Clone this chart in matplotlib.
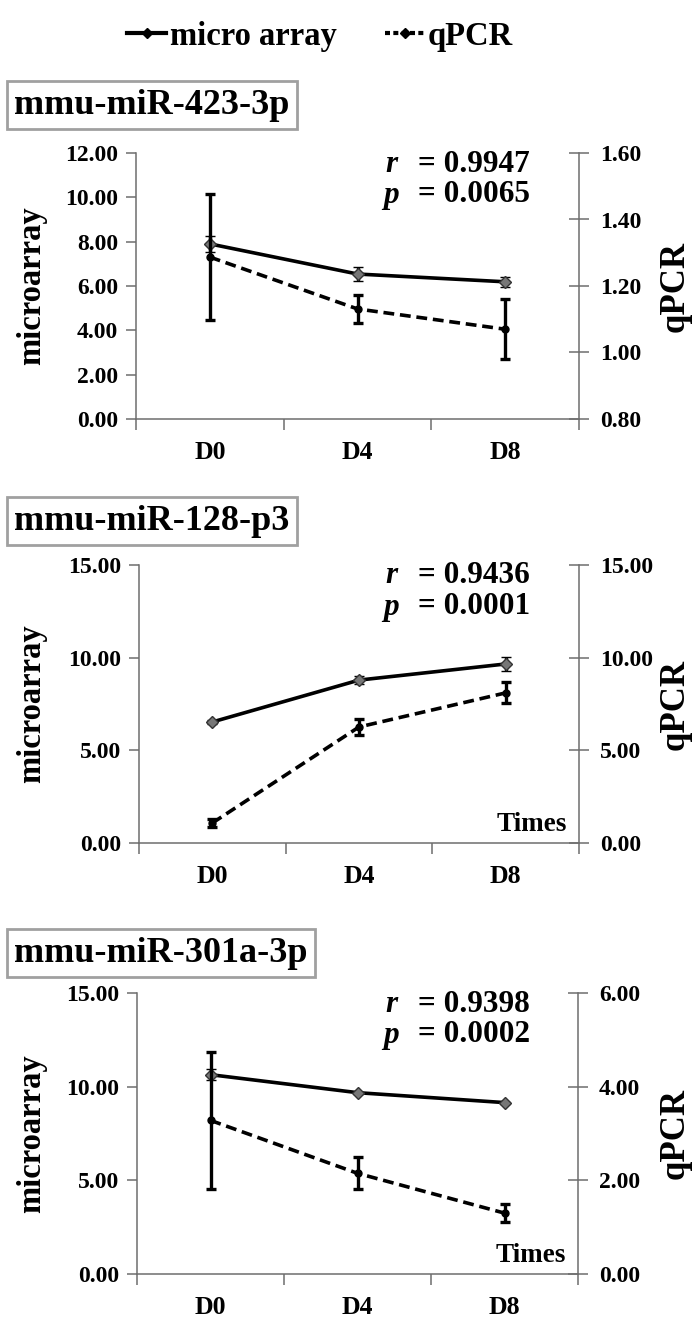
import numpy as np
import matplotlib.pyplot as plt
from matplotlib.lines import Line2D

plt.rcParams['font.family'] = ['Liberation Serif', 'DejaVu Serif']
plt.rcParams['font.weight'] = 'bold'

days = ['D0', 'D4', 'D8']
names = ['mmu-miR-423-3p', 'mmu-miR-128-p3', 'mmu-miR-301a-3p']

micro_423 = [7.90, 6.54, 6.19]
micro_423_err = [0.35, 0.32, 0.22]
qpcr_423 = [1.287, 1.131, 1.070]
qpcr_423_err = [0.19, 0.042, 0.09]

micro_128 = [6.53, 8.79, 9.66]
micro_128_err = [0.10, 0.20, 0.38]
qpcr_128 = [1.08, 6.26, 8.10]
qpcr_128_err = [0.20, 0.43, 0.57]

micro_301 = [10.64, 9.68, 9.15]
micro_301_err = [0.30, 0.05, 0.05]
qpcr_301 = [3.28, 2.15, 1.30]
qpcr_301_err = [1.46, 0.34, 0.20]

r_values = ['0.9947', '0.9436', '0.9398']
p_values = ['0.0065', '0.0001', '0.0002']

left_ticks = [np.arange(0, 12.01, 2), np.arange(0, 15.01, 5), np.arange(0, 15.01, 5)]
right_ticks = [np.arange(0.8, 1.601, 0.2), np.arange(0, 15.01, 5), np.arange(0, 6.01, 2)]
show_times = [False, True, True]

W, H = 699, 1320
fig = plt.figure(figsize=(W / 100, H / 100), dpi=100)

# axes boxes in pixels: left, top, right, bottom
boxes = [(136, 153, 579, 419), (139, 565, 579, 843), (137, 993, 578, 1274)]
title_y = [105, 521, 953]

SPINE = '#6e6e6e'
TICK_FS = 17


def style_axis(ax, side):
    for s in ax.spines.values():
        s.set_visible(False)
    ax.spines[side].set_visible(True)
    ax.spines[side].set_color(SPINE)
    ax.spines[side].set_linewidth(1.1)


def draw_panel(i, micro, micro_err, qpcr, qpcr_err):
    l, t, r, b = boxes[i]
    ax = fig.add_axes([l / W, 1 - b / H, (r - l) / W, (b - t) / H])
    ax2 = ax.twinx()
    x = np.arange(3)

    style_axis(ax, 'left')
    ax.spines['bottom'].set_visible(True)
    ax.spines['bottom'].set_color(SPINE)
    ax.spines['bottom'].set_linewidth(1.1)
    style_axis(ax2, 'right')

    ax.errorbar(x, micro, yerr=micro_err, color='black', lw=2.6, marker='D', ms=6,
                mfc='#777777', mec='#333333', mew=1, ecolor='black', elinewidth=2.4,
                capsize=3.5, capthick=2.4, zorder=3)
    ax2.errorbar(x, qpcr, yerr=qpcr_err, color='black', lw=2.6, ls=(0, (3, 1.6)),
                 marker='o', ms=5, mfc='black', mec='black', ecolor='black',
                 elinewidth=2.4, capsize=3.5, capthick=2.4, zorder=3)

    lt = left_ticks[i]
    rt = right_ticks[i]
    ax.set_ylim(lt[0], lt[-1])
    ax2.set_ylim(rt[0], rt[-1])
    ax.set_yticks(lt)
    ax.set_yticklabels(['%.2f' % v for v in lt], fontsize=TICK_FS)
    ax2.set_yticks(rt)
    ax2.set_yticklabels(['%.2f' % v for v in rt], fontsize=TICK_FS)
    ax.tick_params(axis='y', direction='out', length=7, width=1.1, color=SPINE, pad=6)
    ax2.tick_params(axis='y', direction='inout', length=14, width=1.1, color=SPINE, pad=8)

    ax.set_xlim(-0.5, 2.5)
    ax.set_xticks([-0.5, 0.5, 1.5, 2.5])
    ax.set_xticklabels([])
    ax.set_xticks(x, minor=True)
    ax.set_xticklabels(days, minor=True, fontsize=18.5)
    ax.tick_params(axis='x', which='major', direction='out', length=8, width=1.1, color=SPINE)
    ax.tick_params(axis='x', which='minor', length=0, pad=16)

    fig.text(32 / W, 1 - (t + b) / 2 / H, 'microarray', rotation=90, fontsize=23.5,
             ha='center', va='center')
    fig.text(675 / W, 1 - (t + b) / 2 / H, 'qPCR', rotation=90, fontsize=25,
             ha='center', va='center')

    # r and p annotation
    fig.text(385 / W, 1 - (t + 11) / H, 'r', style='italic', fontsize=22.5, ha='left', va='center')
    fig.text(418 / W, 1 - (t + 11) / H, '= ' + r_values[i], fontsize=22.5, ha='left', va='center')
    fig.text(383 / W, 1 - (t + 42) / H, 'p', style='italic', fontsize=22.5, ha='left', va='center')
    fig.text(418 / W, 1 - (t + 42) / H, '= ' + p_values[i], fontsize=22.5, ha='left', va='center')

    if show_times[i]:
        ax.text(0.972, 0.02, 'Times', transform=ax.transAxes, fontsize=19.5,
                ha='right', va='bottom')

    fig.text(14 / W, 1 - title_y[i] / H, names[i], fontsize=26, ha='left', va='center',
             bbox=dict(boxstyle='square,pad=0.2', fc='white', ec='#a0a0a0', lw=2))


draw_panel(0, micro_423, micro_423_err, qpcr_423, qpcr_423_err)
draw_panel(1, micro_128, micro_128_err, qpcr_128, qpcr_128_err)
draw_panel(2, micro_301, micro_301_err, qpcr_301, qpcr_301_err)

handles = [
    Line2D([], [], color='black', lw=3, marker='D', ms=5, mfc='black'),
    Line2D([], [], color='black', lw=3, ls=(0, (1.2, 0.8)), marker='D', ms=5, mfc='black'),
]
fig.legend(handles, ['micro array', 'qPCR'], loc='center', bbox_to_anchor=(320 / W, 1 - 36 / H),
           ncol=2, frameon=False, fontsize=23.5, handlelength=1.2, handletextpad=0.1,
           columnspacing=1.5)

fig.savefig('out.png', dpi=100)
